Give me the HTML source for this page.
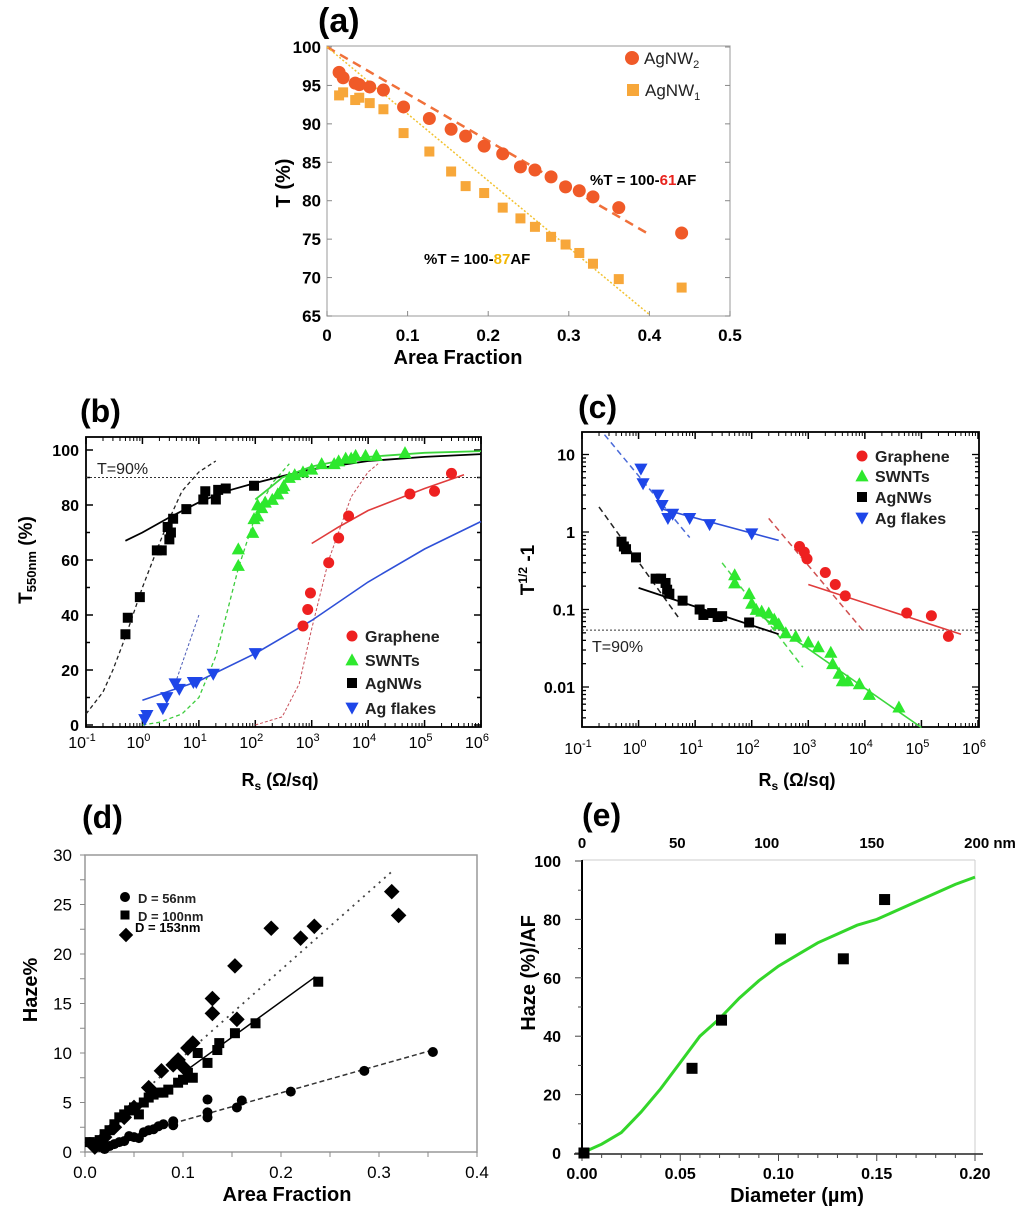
<!DOCTYPE html>
<html><head><meta charset="utf-8">
<style>
html,body{margin:0;padding:0;background:#fff;}
svg{display:block;font-family:"Liberation Sans",Arial,sans-serif;}
</style></head>
<body>
<svg id="fig" width="1024" height="1219" viewBox="0 0 1024 1219"></svg>
<script>
// ===== Panel (a) data =====
const aAF2=[0.015,0.02,0.035,0.04,0.053,0.07,0.095,0.127,0.154,0.172,0.195,0.218,0.24,0.258,0.278,0.296,0.313,0.33,0.362,0.44];
const aT2=[96.7,96,95.3,95.1,94.8,94.4,92.2,90.7,89.3,88.4,87.1,86.1,84.4,84,83.1,81.8,81.3,80.5,79.1,75.8];
const aAF1=[0.015,0.02,0.035,0.04,0.053,0.07,0.095,0.127,0.154,0.172,0.195,0.218,0.24,0.258,0.278,0.296,0.313,0.33,0.362,0.44];
const aT1=[93.7,94.1,93.1,93.4,92.7,91.9,88.8,86.4,83.8,81.9,81,79.1,77.7,76.6,75.3,74.3,73.2,71.8,69.8,68.7];
const aSlope2=61, aSlope1=87;
const aXTicks=[0,0.1,0.2,0.3,0.4,0.5];
const aXLabels=["0","0.1","0.2","0.3","0.4","0.5"];
const aYTicks=[65,70,75,80,85,90,95,100];

// ===== Panel (b) data =====
const bNWx=[0.5,0.55,0.9,1.8,2.2,2.8,3,3.2,3.5,6,12,13,20,22,30,95];
const bNWy=[33,39,46.5,63.5,63.5,72,67.5,70,75,78.5,82,85,82,85.5,86,87];
const bNWfitX=[0.5,1,3,10,30,100,300,1000,1e4,1e5,1e6];
const bNWfitY=[67,70,75.5,81,85,88,90.5,93,96,97.5,98.5];
const bNWdashX=[0.1,0.2,0.3,0.5,1,2,3,5,10,20];
const bNWdashY=[4,12,20,32,50,66,75,85,92,96];
const bSWx=[50,50,90,95,110,110,130,150,200,250,300,320,400,500,700,1000,1500,2500,3000,4000,5000,6000,9000,14000,45000];
const bSWy=[58,64,70,75,76,80,79,81,82,84,86,87,90,91,92,93,95,95,96,97,97,98,98,98,99];
const bSWfitX=[100,200,300,1000,3000,1e4,1e5,1e6];
const bSWfitY=[82,87,90,94,96,97.5,99,99.6];
const bSWdashX=[1,2,5,10,20,50,100,200,400];
const bSWdashY=[0,1,4,10,25,57,76,88,95];
const bGRx=[700,850,950,2000,3000,4500,55000,150000,300000];
const bGRy=[36,42,48,59,68,76,84,85,91.5];
const bGRfitX=[1000,3000,1e4,1e5,5e5];
const bGRfitY=[66,72,78,86,91];
const bGRdashX=[100,300,600,1000,2000,5000,1e4,15000];
const bGRdashY=[0,3,15,35,60,83,92,95];
const bAFx=[1.1,1.2,2.3,2.7,3.8,4.5,8,9,18,100];
const bAFy=[2,3.5,6,10,15,13,15.5,15.5,18.5,26];
const bAFfitX=[1,10,100,1000,1e4,1e5,1e6];
const bAFfitY=[9,16,26,38,52,64,74];
const bAFdashX=[3.8,10];
const bAFdashY=[15,40];
const bYTicks=[0,20,40,60,80,100];
const bT90=90;

// ===== Panel (c) data =====
const cAFx=[1.1,1.2,2.2,2.6,3.3,4,8,18,100];
const cAFy=[6.5,4.2,3,2.2,1.5,1.7,1.5,1.25,0.95];
const cAFfitX=[2.5,300]; const cAFfitY=[2.0,0.78];
const cAFdashX=[0.25,8]; const cAFdashY=[18,0.85];
const cNWx=[0.5,0.55,0.6,0.9,2,2.5,3,3.2,3.5,6,12,14,20,25,30,90];
const cNWy=[0.75,0.65,0.6,0.47,0.25,0.25,0.22,0.18,0.16,0.13,0.1,0.085,0.09,0.08,0.082,0.068];
const cNWfitX=[1,300]; const cNWfitY=[0.19,0.048];
const cNWdashX=[0.2,5]; const cNWdashY=[2.1,0.08];
const cSWx=[50,50,90,100,120,150,200,250,300,400,600,1000,1500,2500,2700,3500,4000,5000,8000,12000,40000];
const cSWy=[0.28,0.22,0.16,0.12,0.1,0.095,0.09,0.075,0.065,0.05,0.045,0.038,0.033,0.028,0.02,0.015,0.012,0.012,0.011,0.008,0.0055];
const cSWfitX=[100,1e5]; const cSWfitY=[0.1,0.003];
const cSWdashX=[30,800]; const cSWdashY=[0.4,0.018];
const cGRx=[700,850,950,2000,3000,4500,55000,150000,300000];
const cGRy=[0.65,0.55,0.45,0.3,0.21,0.15,0.09,0.083,0.045];
const cGRfitX=[1000,5e5]; const cGRfitY=[0.21,0.048];
const cGRdashX=[200,1e4]; const cGRdashY=[1.5,0.05];
const cYTicks=[10,1,0.1,0.01];
const cYLabels=["10","1","0.1","0.01"];
const cT90=0.0541;

// ===== Panel (d) data =====
const d56x=[0.005,0.01,0.015,0.02,0.025,0.03,0.035,0.04,0.045,0.05,0.055,0.06,0.065,0.07,0.075,0.08,0.09,0.09,0.125,0.125,0.125,0.155,0.16,0.21,0.285,0.355];
const d56y=[1,0.5,0.5,0.3,0.6,0.8,1,1.1,1.6,1.5,1.4,2,2.2,2.3,2.6,2.8,3.1,2.7,5.3,4,3.5,4.5,5.2,6.1,8.2,10.1];
const d56fitX=[0.09,0.355]; const d56fitY=[2.9,10.3];
const d100x=[0.005,0.01,0.015,0.02,0.025,0.03,0.035,0.04,0.045,0.05,0.055,0.06,0.065,0.07,0.075,0.08,0.085,0.095,0.1,0.105,0.11,0.115,0.125,0.135,0.137,0.153,0.174,0.238];
const d100y=[1,0.8,1.2,1.8,2.2,2.8,3.5,3.8,4.2,4.5,3.8,5,5.5,5.8,6,6,6.3,7,7.3,8,7.5,10,9,10.3,11,12,13,17.2];
const d100fitX=[0.1,0.235]; const d100fitY=[8,17.7];
const d153x=[0.01,0.02,0.03,0.04,0.05,0.065,0.078,0.09,0.095,0.1,0.105,0.11,0.13,0.13,0.155,0.153,0.19,0.22,0.234,0.313,0.32];
const d153y=[0.5,1.5,2.5,3.5,4.5,6.5,8.2,8.8,9.3,8.6,10.5,11,14,15.5,13.4,18.8,22.6,21.6,22.8,26.3,23.9];
const d153fitX=[0.07,0.315]; const d153fitY=[7,28.5];
const dXTicks=[0,0.1,0.2,0.3,0.4]; const dXLabels=["0.0","0.1","0.2","0.3","0.4"];
const dYTicks=[0,5,10,15,20,25,30];

// ===== Panel (e) data =====
const eDx=[0.001,0.056,0.071,0.101,0.133,0.154];
const eDy=[0,29,45.5,73.3,66.5,86.8];
const eCurveX=[0,0.01,0.02,0.03,0.04,0.05,0.06,0.07,0.08,0.09,0.1,0.11,0.12,0.13,0.14,0.15,0.16,0.17,0.18,0.19,0.2];
const eCurveY=[0,3,7,14,22,31,40,46,53,59,64,68,72,75,78,80,83,86,89,92,94.5];
const eXTicks=[0,0.05,0.1,0.15,0.2]; const eXLabels=["0.00","0.05","0.10","0.15","0.20"];
const eYTicks=[0,20,40,60,80,100];
const eTopLabels=["0","50","100","150","200 nm"];
const eTopVals=[0,0.0485,0.094,0.1475,0.2];

// ===== helpers =====
const NS='http://www.w3.org/2000/svg';
const svg=document.getElementById('fig');
function mk(tag,attrs,parent){const e=document.createElementNS(NS,tag);for(const k in attrs)e.setAttribute(k,attrs[k]);(parent||svg).appendChild(e);return e;}
function lin(d0,d1,p0,p1){return v=>p0+(v-d0)/(d1-d0)*(p1-p0);}
function logs(e0,e1,p0,p1){return v=>p0+(Math.log10(v)-e0)/(e1-e0)*(p1-p0);}
function txt(x,y,s,attrs,parent){const t=mk('text',Object.assign({x:x,y:y},attrs||{}),parent);t.textContent=s;return t;}
function marker(g,shape,x,y,s,color){
  let el;
  if(shape==='circle') el=mk('circle',{cx:x,cy:y,r:s/2,fill:color},g);
  else if(shape==='square') el=mk('rect',{x:x-s/2,y:y-s/2,width:s,height:s,fill:color},g);
  else if(shape==='tri') el=mk('polygon',{points:`${x},${y-s*0.55} ${x-s*0.55},${y+s*0.45} ${x+s*0.55},${y+s*0.45}`,fill:color},g);
  else if(shape==='dtri') el=mk('polygon',{points:`${x},${y+s*0.55} ${x-s*0.55},${y-s*0.45} ${x+s*0.55},${y-s*0.45}`,fill:color},g);
  else el=mk('polygon',{points:`${x},${y-s*0.6} ${x+s*0.6},${y} ${x},${y+s*0.6} ${x-s*0.6},${y}`,fill:color},g);
  return el;
}
function line(g,xs,ys,sx,sy,color,w,dash,name){
  const pts=xs.map((v,i)=>sx(v).toFixed(1)+','+sy(ys[i]).toFixed(1)).join(' ');
  const p=mk('polyline',{points:pts,fill:'none',stroke:color,'stroke-width':w,'stroke-dasharray':dash||'none'},g);
  
  
  return p;
}
function series(g,xs,ys,sx,sy,shape,s,color,name){
  for(let i=0;i<xs.length;i++){
    const m=marker(g,shape,sx(xs[i]),sy(ys[i]),s,color);
    
    
  }
}
function group(name){const g=mk('g',{});return g;}
function logXAxis(g,sx,yb,yt,labY){
  for(let e=-1;e<=6;e++){
    const x=sx(Math.pow(10,e));
    mk('line',{x1:x,y1:yb,x2:x,y2:yb-7,stroke:'#000','stroke-width':1.5},g);
    mk('line',{x1:x,y1:yt,x2:x,y2:yt+7,stroke:'#000','stroke-width':1.5},g);
    const t=txt(x-4,labY,'10',{'font-size':16,'text-anchor':'middle'},g);
    const sup=mk('tspan',{dy:-7,'font-size':11},t);sup.textContent=String(e);
    
    
    if(e<6)for(let m=2;m<=9;m++){const xm=sx(m*Math.pow(10,e));
      mk('line',{x1:xm,y1:yb,x2:xm,y2:yb-4,stroke:'#000','stroke-width':1},g);
      mk('line',{x1:xm,y1:yt,x2:xm,y2:yt+4,stroke:'#000','stroke-width':1},g);}
  }
}
function legendRow(g,shape,x,y,s,color,label,fs){
  const m=marker(g,shape,x,y,s,color);
  
  
  const t=txt(x+13,y+6,label,{'font-size':fs,'font-weight':'bold',fill:'#222'},g);
  
  
}

// ===== Panel a =====
(function(){
  const g=group('panel-a');
  const sx=lin(0,0.5,327,730), sy=lin(65,100,316,47);
  const L=327,R=730,T=46,B=316;
  txt(318,32,'(a)',{'font-size':34,'font-weight':'bold'},g);
  const fr=mk('rect',{x:L,y:T,width:R-L,height:B-T,fill:'none',stroke:'#aaa','stroke-width':1.2},g);
  
  aXTicks.forEach((v,i)=>{const x=sx(v);mk('line',{x1:x,y1:B,x2:x,y2:B-5,stroke:'#888'},g);
    const t=txt(x,341,aXLabels[i],{'font-size':17,'font-weight':'bold','text-anchor':'middle'},g);
    });
  aYTicks.forEach(v=>{const y=sy(v);mk('line',{x1:L,y1:y,x2:L+5,y2:y,stroke:'#888'},g);mk('line',{x1:R,y1:y,x2:R-5,y2:y,stroke:'#888'},g);
    const t=txt(321,y+6,String(v),{'font-size':17,'font-weight':'bold','text-anchor':'end'},g);
    });
  line(g,[0,0.4],[100,100-aSlope2*0.4],sx,sy,'#f0703a',2.5,'9,6','fit-agnw2');
  line(g,[0,0.4],[100,100-aSlope1*0.4],sx,sy,'#f2c230',1.5,'2,2','fit-agnw1');
  series(g,aAF1,aT1,sx,sy,'square',10,'#f7a73a','point-agnw1');
  series(g,aAF2,aT2,sx,sy,'circle',13,'#f05a28','point-agnw2');
  const l1=marker(g,'circle',632,58,14,'#f05a28');
  const t1=txt(644,64,'AgNW',{'font-size':17,'fill':'#222'},g);const s1=mk('tspan',{dy:4,'font-size':11},t1);s1.textContent='2';
  
  const l2=marker(g,'square',633,90,12,'#f7a73a');
  const t2=txt(645,96,'AgNW',{'font-size':17,'fill':'#222'},g);const s2=mk('tspan',{dy:4,'font-size':11},t2);s2.textContent='1';
  
  const e1=txt(590,185,'%T = 100-',{'font-size':15,'font-weight':'bold'},g);
  const e1b=mk('tspan',{fill:'#e8221c'},e1);e1b.textContent=String(aSlope2);const e1c=mk('tspan',{},e1);e1c.textContent='AF';
  
  const e2=txt(424,264,'%T = 100-',{'font-size':15,'font-weight':'bold'},g);
  const e2b=mk('tspan',{fill:'#f2b705'},e2);e2b.textContent=String(aSlope1);const e2c=mk('tspan',{},e2);e2c.textContent='AF';
  
  txt(458,364,'Area Fraction',{'font-size':20,'font-weight':'bold','text-anchor':'middle'},g);
  txt(0,0,'T (%)',{'font-size':20,'font-weight':'bold','text-anchor':'middle',transform:'translate(290,183) rotate(-90)'},g);
})();

// ===== Panel b =====
(function(){
  const g=group('panel-b');
  const sx=logs(-1,6,86,481), sy=lin(0,100,725,450);
  const L=86,R=481,T=437,B=727;
  txt(80,422,'(b)',{'font-size':32,'font-weight':'bold'},g);
  mk('rect',{x:L,y:T,width:R-L,height:B-T,fill:'none',stroke:'#000','stroke-width':1.8},g);
  logXAxis(g,sx,B,T,748);
  for(let v=0;v<=100;v+=10){const y=sy(v);const len=v%20===0?7:4;
    mk('line',{x1:L,y1:y,x2:L+len,y2:y,stroke:'#000','stroke-width':1.5},g);mk('line',{x1:R,y1:y,x2:R-len,y2:y,stroke:'#000','stroke-width':1.5},g);}
  bYTicks.forEach(v=>{const t=txt(79,sy(v)+6,String(v),{'font-size':16,'font-weight':'bold','text-anchor':'end'},g);});
  const h=mk('line',{x1:L,y1:sy(bT90),x2:R,y2:sy(bT90),stroke:'#333','stroke-dasharray':'2,2'},g);
  txt(97,474,'T=90%',{'font-size':16,fill:'#222'},g);
  line(g,bNWdashX,bNWdashY,sx,sy,'#222',1.3,'4,3','agnw-dashed-fit');
  line(g,bAFdashX,bAFdashY,sx,sy,'#4a5bb8',1,'3,2','agflake-dashed-fit');
  line(g,bSWdashX,bSWdashY,sx,sy,'#3ccc3c',1.3,'4,3','swnt-dashed-fit');
  line(g,bGRdashX,bGRdashY,sx,sy,'#c8505a',1,'3,2','graphene-dashed-fit');
  line(g,bNWfitX,bNWfitY,sx,sy,'#000',1.8,null,'agnw-fit');
  line(g,bSWfitX,bSWfitY,sx,sy,'#3cd63c',1.8,null,'swnt-fit');
  line(g,bGRfitX,bGRfitY,sx,sy,'#e03c3c',1.6,null,'graphene-fit');
  line(g,bAFfitX,bAFfitY,sx,sy,'#2f50d8',1.6,null,'agflake-fit');
  series(g,bNWx,bNWy,sx,sy,'square',10,'#000','point-agnw');
  series(g,bSWx,bSWy,sx,sy,'tri',12,'#2ee82e','point-swnt');
  series(g,bGRx,bGRy,sx,sy,'circle',11,'#ee2020','point-graphene');
  series(g,bAFx,bAFy,sx,sy,'dtri',12,'#1e46e8','point-agflake');
  legendRow(g,'circle',352,636,11,'#ee2020','Graphene',16);
  legendRow(g,'tri',352,660,12,'#2ee82e','SWNTs',16);
  legendRow(g,'square',352,683,10,'#000','AgNWs',16);
  legendRow(g,'dtri',352,708,12,'#1e46e8','Ag flakes',16);
  const xt=txt(280,786,'R',{'font-size':18,'font-weight':'bold','text-anchor':'middle'},g);
  const xs=mk('tspan',{dy:4,'font-size':12},xt);xs.textContent='s';const xr=mk('tspan',{dy:-4},xt);xr.textContent=' (Ω/sq)';
  
  const yt=txt(0,0,'T',{'font-size':19,'font-weight':'bold','text-anchor':'middle',transform:'translate(32,560) rotate(-90)'},g);
  const ys=mk('tspan',{dy:4,'font-size':13},yt);ys.textContent='550nm';const yr=mk('tspan',{dy:-4},yt);yr.textContent=' (%)';
  
})();

// ===== Panel c =====
(function(){
  const g=group('panel-c');
  const sx=logs(-1,6,582,978), sy=v=>532-77.5*Math.log10(v);
  const L=582,R=979,T=432,B=727;
  txt(578,418,'(c)',{'font-size':32,'font-weight':'bold'},g);
  mk('rect',{x:L,y:T,width:R-L,height:B-T,fill:'none',stroke:'#000','stroke-width':1.8},g);
  logXAxis(g,sx,B,T,754);
  for(let e=-3;e<=1;e++){for(let m=1;m<=9;m++){const v=m*Math.pow(10,e);const y=sy(v);if(y<T||y>B)continue;const len=m===1?7:4;
    mk('line',{x1:L,y1:y,x2:L+len,y2:y,stroke:'#000','stroke-width':1.3},g);mk('line',{x1:R,y1:y,x2:R-len,y2:y,stroke:'#000','stroke-width':1.3},g);}}
  cYTicks.forEach((v,i)=>{const t=txt(575,sy(v)+6,cYLabels[i],{'font-size':16,'font-weight':'bold','text-anchor':'end'},g);});
  const h=mk('line',{x1:L,y1:sy(cT90),x2:R,y2:sy(cT90),stroke:'#333','stroke-dasharray':'2,2'},g);
  txt(592,652,'T=90%',{'font-size':16,fill:'#222'},g);
  line(g,cAFdashX,cAFdashY,sx,sy,'#4a6ad8',1.5,'6,4','agflake-dashed-fit');
  line(g,cNWdashX,cNWdashY,sx,sy,'#222',1.5,'6,4','agnw-dashed-fit');
  line(g,cSWdashX,cSWdashY,sx,sy,'#4ad84a',1.5,'6,4','swnt-dashed-fit');
  line(g,cGRdashX,cGRdashY,sx,sy,'#d05050',1.5,'6,4','graphene-dashed-fit');
  line(g,cAFfitX,cAFfitY,sx,sy,'#2f50d8',1.6,null,'agflake-fit');
  line(g,cNWfitX,cNWfitY,sx,sy,'#000',1.8,null,'agnw-fit');
  line(g,cSWfitX,cSWfitY,sx,sy,'#3cd63c',1.6,null,'swnt-fit');
  line(g,cGRfitX,cGRfitY,sx,sy,'#e03c3c',1.6,null,'graphene-fit');
  series(g,cNWx,cNWy,sx,sy,'square',10,'#000','point-agnw');
  series(g,cSWx,cSWy,sx,sy,'tri',12,'#2ee82e','point-swnt');
  series(g,cGRx,cGRy,sx,sy,'circle',11,'#ee2020','point-graphene');
  series(g,cAFx,cAFy,sx,sy,'dtri',12,'#1e46e8','point-agflake');
  legendRow(g,'circle',862,456,11,'#ee2020','Graphene',16);
  legendRow(g,'tri',862,476,12,'#2ee82e','SWNTs',16);
  legendRow(g,'square',862,497,10,'#000','AgNWs',16);
  legendRow(g,'dtri',862,518,12,'#1e46e8','Ag flakes',16);
  const xt=txt(797,786,'R',{'font-size':18,'font-weight':'bold','text-anchor':'middle'},g);
  const xs=mk('tspan',{dy:4,'font-size':12},xt);xs.textContent='s';const xr=mk('tspan',{dy:-4},xt);xr.textContent=' (Ω/sq)';
  
  const yt=txt(0,0,'T',{'font-size':19,'font-weight':'bold','text-anchor':'middle',transform:'translate(534,570) rotate(-90)'},g);
  const ys=mk('tspan',{dy:-7,'font-size':12},yt);ys.textContent='1/2';const yr=mk('tspan',{dy:7},yt);yr.textContent=' -1';
  
})();

// ===== Panel d =====
(function(){
  const g=group('panel-d');
  const sx=lin(0,0.4,85,477), sy=lin(0,30,1152,855);
  const L=85,R=477,T=855,B=1152;
  txt(82,828,'(d)',{'font-size':32,'font-weight':'bold'},g);
  mk('rect',{x:L,y:T,width:R-L,height:B-T,fill:'none',stroke:'#999','stroke-width':1.5},g);
  for(let v=0;v<=0.4001;v+=0.05){const x=sx(v);mk('line',{x1:x,y1:B,x2:x,y2:B+5,stroke:'#888'},g);}
  for(let v=0;v<=30;v+=2.5){const y=sy(v);mk('line',{x1:L,y1:y,x2:L-5,y2:y,stroke:'#888'},g);}
  dXTicks.forEach((v,i)=>{const t=txt(sx(v),1178,dXLabels[i],{'font-size':17,'text-anchor':'middle'},g);});
  dYTicks.forEach(v=>{const t=txt(72,sy(v)+6,String(v),{'font-size':17,'text-anchor':'end'},g);});
  line(g,d56fitX,d56fitY,sx,sy,'#333',1.5,'5,3','fit-56nm');
  line(g,d100fitX,d100fitY,sx,sy,'#000',1.5,null,'fit-100nm');
  line(g,d153fitX,d153fitY,sx,sy,'#444',1.8,'2,5','fit-153nm');
  series(g,d56x,d56y,sx,sy,'circle',10,'#000','point-56nm');
  series(g,d100x,d100y,sx,sy,'square',10,'#000','point-100nm');
  series(g,d153x,d153y,sx,sy,'diamond',13,'#000','point-153nm');
  legendRow(g,'circle',125,897,10,'#000','D = 56nm',13);
  legendRow(g,'square',125,915,9,'#000','D = 100nm',13);
  const dm=marker(g,'diamond',126,935,12,'#000');
  const dt=txt(135,932,'D = 153nm',{'font-size':13,'font-weight':'bold'},g);
  txt(287,1201,'Area Fraction',{'font-size':20,'font-weight':'bold','text-anchor':'middle'},g);
  txt(0,0,'Haze%',{'font-size':20,'font-weight':'bold','text-anchor':'middle',transform:'translate(37,990) rotate(-90)'},g);
})();

// ===== Panel e =====
(function(){
  const g=group('panel-e');
  const sx=lin(0,0.2,582,975), sy=lin(0,100,1153,861);
  const L=582,R=975,T=860,B=1154;
  txt(582,826,'(e)',{'font-size':32,'font-weight':'bold'},g);
  mk('line',{x1:L,y1:T,x2:R,y2:T,stroke:'#ccc'},g);
  mk('line',{x1:R,y1:T,x2:R,y2:B,stroke:'#ccc'},g);
  mk('line',{x1:L,y1:T,x2:L,y2:B,stroke:'#000','stroke-width':2},g);
  mk('line',{x1:L-8,y1:B,x2:R+8,y2:B,stroke:'#222','stroke-width':1.5},g);
  for(let v=0;v<=0.2001;v+=0.01){const x=sx(v);mk('line',{x1:x,y1:B,x2:x,y2:B+(Math.round(v*100)%5===0?7:4),stroke:'#444'},g);}
  for(let v=0;v<=100;v+=10){const y=sy(v);mk('line',{x1:L,y1:y,x2:L-(v%20===0?7:4),y2:y,stroke:'#444'},g);}
  eXTicks.forEach((v,i)=>{const t=txt(sx(v),1179,eXLabels[i],{'font-size':16,'font-weight':'bold','text-anchor':'middle'},g);});
  eYTicks.forEach(v=>{const t=txt(561,sy(v)+6,String(v),{'font-size':16,'font-weight':'bold','text-anchor':'end'},g);});
  eTopLabels.forEach((s,i)=>{const x=sx(eTopVals[i])+(i===4?15:0);const t=txt(x,848,s,{'font-size':15,'font-weight':'bold','text-anchor':'middle'},g);});
  line(g,eCurveX,eCurveY,sx,sy,'#33d62a',3,null,'model-curve');
  series(g,eDx,eDy,sx,sy,'square',11,'#000','data-point');
  txt(797,1202,'Diameter (µm)',{'font-size':20,'font-weight':'bold','text-anchor':'middle'},g);
  txt(0,0,'Haze (%)/AF',{'font-size':20,'font-weight':'bold','text-anchor':'middle',transform:'translate(535,973) rotate(-90)'},g);
})();
</script>
</body></html>
